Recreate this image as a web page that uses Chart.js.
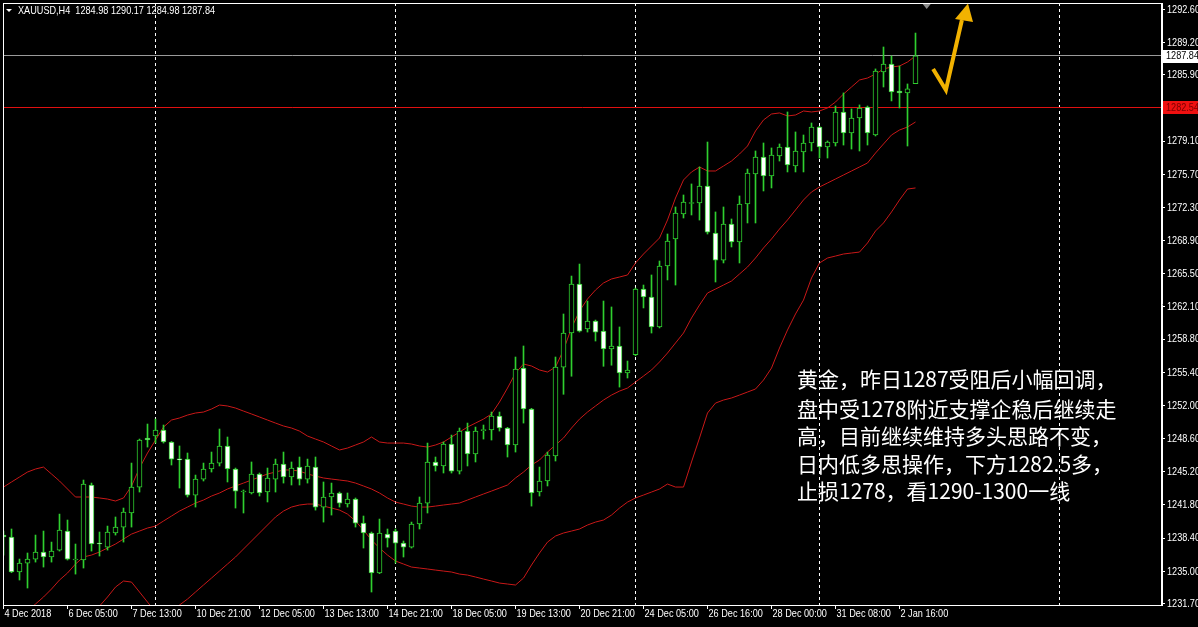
<!DOCTYPE html>
<html lang="zh">
<head>
<meta charset="utf-8">
<title>XAUUSD,H4</title>
<script src="https://cdn.jsdelivr.net/npm/chart.js@4.4.1/dist/chart.umd.min.js"></script>
<style>
  html, body { margin: 0; padding: 0; background: #000; overflow: hidden; }
  #grafico { display: block; }
</style>
</head>
<body>
<canvas id="grafico" width="1198" height="627"></canvas>
<script>
// Datos (velas H4 de XAUUSD, indice 0 = 4 Dec 21:00)
const titulo = 'XAUUSD,H4  1284.98 1290.17 1284.98 1287.84';

const opens = [
  1238.71, 1238.51, 1234.92, 1235.84, 1236.25, 1236.97, 1236.46, 1237.17, 1239.12, 1236.15,
  1236.15, 1243.84, 1237.89, 1237.48, 1238.92, 1239.53, 1240.97, 1243.63, 1248.66, 1248.86,
  1249.48, 1248.25, 1246.50, 1246.50, 1242.81, 1244.45, 1245.48, 1246.09, 1247.84, 1245.48,
  1243.12, 1243.02, 1244.97, 1243.12, 1244.45, 1245.99, 1244.66, 1245.68, 1244.45, 1245.68,
  1241.58, 1242.61, 1243.02, 1241.89, 1242.40, 1239.94, 1238.92, 1234.82, 1238.81, 1239.12,
  1237.89, 1237.48, 1239.84, 1241.99, 1246.20, 1245.79, 1248.04, 1245.27, 1249.37, 1247.02,
  1249.42, 1249.48, 1250.91, 1249.68, 1247.94, 1255.83, 1251.63, 1243.12, 1244.25, 1246.81,
  1255.93, 1259.42, 1264.44, 1259.83, 1260.65, 1259.62, 1257.78, 1258.09, 1255.32, 1257.19,
  1263.93, 1263.11, 1260.04, 1266.29, 1269.06, 1271.62, 1272.70, 1272.75, 1274.49, 1269.67,
  1266.90, 1270.60, 1268.75, 1272.65, 1275.72, 1277.46, 1275.52, 1277.57, 1278.49, 1276.54,
  1277.98, 1278.90, 1280.54, 1278.49, 1278.90, 1282.08, 1279.92, 1281.46, 1282.59, 1279.72,
  1286.18, 1287.00, 1284.23, 1284.03, 1284.98
];
const highs = [
  1239.12, 1239.33, 1236.25, 1236.87, 1238.71, 1239.12, 1237.99, 1240.86, 1240.25, 1237.79,
  1244.35, 1244.04, 1239.02, 1239.63, 1240.56, 1241.48, 1246.09, 1248.55, 1250.09, 1250.60,
  1249.99, 1248.30, 1247.84, 1247.12, 1244.86, 1246.09, 1247.22, 1249.58, 1248.76, 1245.58,
  1243.33, 1246.20, 1245.07, 1245.58, 1246.50, 1247.22, 1246.20, 1246.71, 1246.50, 1246.71,
  1244.15, 1244.04, 1243.12, 1243.02, 1242.51, 1240.66, 1239.02, 1240.35, 1239.33, 1239.33,
  1238.10, 1240.04, 1242.61, 1248.14, 1246.71, 1248.25, 1248.96, 1249.68, 1250.19, 1249.78,
  1249.99, 1251.32, 1251.32, 1249.75, 1256.96, 1258.09, 1251.70, 1245.68, 1247.22, 1256.96,
  1261.37, 1265.26, 1266.49, 1262.70, 1260.75, 1262.70, 1262.09, 1260.04, 1256.55, 1264.03,
  1264.34, 1265.37, 1266.80, 1269.57, 1272.34, 1273.57, 1274.70, 1276.44, 1279.00, 1271.83,
  1272.34, 1271.11, 1273.47, 1276.23, 1278.08, 1278.90, 1278.39, 1278.80, 1282.08, 1280.03,
  1279.72, 1280.95, 1280.60, 1279.11, 1282.69, 1284.03, 1282.39, 1282.80, 1282.69, 1286.49,
  1288.74, 1287.82, 1286.79, 1284.95, 1290.17
];
const lows = [
  1236.66, 1234.85, 1234.10, 1233.28, 1235.94, 1235.43, 1235.94, 1237.07, 1236.15, 1234.71,
  1235.33, 1237.07, 1236.56, 1237.17, 1238.71, 1237.99, 1239.53, 1243.12, 1247.73, 1248.14,
  1248.14, 1245.89, 1243.53, 1242.61, 1241.58, 1244.25, 1245.17, 1245.79, 1244.15, 1241.48,
  1240.97, 1242.92, 1242.71, 1242.10, 1243.12, 1244.04, 1243.84, 1243.84, 1244.04, 1241.27,
  1240.04, 1240.76, 1241.58, 1241.58, 1239.53, 1237.38, 1232.87, 1234.75, 1237.48, 1235.84,
  1236.46, 1237.38, 1239.33, 1240.97, 1245.27, 1245.07, 1245.07, 1244.97, 1245.79, 1246.20,
  1248.55, 1248.45, 1249.37, 1246.71, 1247.22, 1250.19, 1241.68, 1242.71, 1243.74, 1246.30,
  1253.14, 1254.99, 1259.52, 1259.52, 1258.60, 1256.01, 1256.12, 1253.88, 1254.81, 1257.09,
  1261.99, 1259.42, 1259.94, 1264.86, 1264.34, 1271.21, 1271.52, 1271.00, 1269.57, 1264.65,
  1266.60, 1268.24, 1266.60, 1270.70, 1270.70, 1273.98, 1274.29, 1277.05, 1275.93, 1275.93,
  1275.93, 1278.08, 1277.36, 1277.36, 1278.59, 1278.69, 1278.28, 1278.08, 1278.69, 1279.62,
  1284.64, 1283.21, 1282.49, 1278.59, 1284.98
];
const closes = [
  1238.51, 1234.92, 1235.84, 1236.25, 1236.97, 1236.46, 1237.07, 1239.22, 1236.25, 1236.25,
  1243.94, 1237.79, 1237.79, 1239.02, 1239.53, 1241.07, 1243.63, 1248.45, 1248.45, 1249.48,
  1248.25, 1246.50, 1246.42, 1242.81, 1244.45, 1245.48, 1246.09, 1247.84, 1245.48, 1243.22,
  1243.18, 1244.97, 1243.02, 1244.56, 1245.99, 1244.66, 1245.58, 1244.45, 1245.79, 1241.58,
  1242.61, 1243.02, 1241.99, 1242.40, 1239.94, 1238.92, 1234.82, 1238.92, 1238.40, 1237.89,
  1237.48, 1239.84, 1241.99, 1246.20, 1245.79, 1248.04, 1245.27, 1249.37, 1247.02, 1249.37,
  1249.48, 1250.91, 1249.68, 1247.94, 1255.73, 1251.63, 1243.02, 1244.25, 1246.91, 1255.93,
  1259.42, 1264.44, 1259.62, 1260.65, 1259.52, 1257.78, 1258.09, 1255.32, 1255.63, 1263.93,
  1263.11, 1260.04, 1266.29, 1268.85, 1271.72, 1272.85, 1272.78, 1274.49, 1269.77, 1266.90,
  1270.60, 1268.75, 1272.65, 1275.82, 1277.46, 1275.52, 1277.67, 1278.49, 1276.64, 1278.08,
  1278.90, 1280.54, 1278.49, 1279.00, 1282.08, 1279.92, 1281.46, 1282.49, 1279.92, 1286.28,
  1287.00, 1284.13, 1284.03, 1284.44, 1287.84
];

// Bandas de Bollinger (superior, media, inferior)
const upperBand = [
  1243.63, 1244.15, 1244.66, 1245.17, 1245.48, 1245.68, 1244.97, 1244.25, 1243.43, 1242.61,
  1242.61, 1242.61, 1242.51, 1242.40, 1242.20, 1242.51, 1243.73, 1245.58, 1247.12, 1248.45,
  1249.78, 1250.50, 1250.71, 1251.01, 1251.22, 1251.32, 1251.63, 1252.04, 1251.94, 1251.73,
  1251.42, 1251.12, 1250.81, 1250.50, 1250.19, 1249.89, 1249.68, 1249.37, 1248.86, 1248.55,
  1248.25, 1247.84, 1247.43, 1247.63, 1247.94, 1248.25, 1248.76, 1248.25, 1248.14, 1248.14,
  1248.14, 1248.04, 1247.84, 1247.73, 1247.94, 1248.25, 1248.76, 1249.27, 1249.78, 1250.19,
  1250.60, 1251.12, 1252.35, 1253.78, 1255.32, 1256.24, 1256.04, 1255.63, 1255.42, 1255.93,
  1257.68, 1259.93, 1261.68, 1262.91, 1263.83, 1264.55, 1264.96, 1265.16, 1265.37, 1266.60,
  1267.52, 1268.34, 1269.16, 1271.01, 1273.26, 1275.11, 1275.93, 1276.44, 1276.03, 1276.03,
  1276.54, 1277.05, 1277.77, 1278.59, 1280.13, 1281.26, 1281.87, 1281.98, 1281.67, 1281.77,
  1282.18, 1282.08, 1282.18, 1282.49, 1283.10, 1283.92, 1284.64, 1285.36, 1285.56, 1285.97,
  1286.49, 1286.69, 1286.79, 1287.20, 1287.82
];
const middleBand = [
  1227.95, 1229.18, 1230.20, 1230.92, 1231.64, 1232.36, 1233.18, 1234.10, 1234.82, 1235.74,
  1236.46, 1236.66, 1236.97, 1237.38, 1237.79, 1238.30, 1238.81, 1239.12, 1239.43, 1239.63,
  1240.15, 1240.66, 1241.17, 1241.58, 1241.99, 1242.30, 1242.71, 1243.02, 1243.43, 1243.74,
  1244.04, 1244.35, 1244.66, 1244.97, 1245.17, 1245.38, 1245.38, 1245.27, 1244.97, 1244.76,
  1244.56, 1244.45, 1244.35, 1244.25, 1244.04, 1243.74, 1243.43, 1243.02, 1242.51, 1242.09,
  1241.89, 1241.68, 1241.58, 1241.58, 1241.68, 1241.79, 1241.89, 1241.99, 1242.30, 1242.61,
  1242.92, 1243.22, 1243.53, 1243.84, 1244.56, 1245.17, 1245.89, 1246.40, 1247.22, 1247.94,
  1248.66, 1249.68, 1250.60, 1251.32, 1251.94, 1252.55, 1253.06, 1253.47, 1253.78, 1254.40,
  1255.01, 1255.63, 1256.45, 1257.37, 1258.40, 1259.42, 1260.96, 1262.29, 1263.52, 1263.93,
  1264.34, 1264.75, 1265.47, 1266.19, 1267.11, 1268.14, 1269.06, 1270.08, 1271.01, 1272.03,
  1273.06, 1273.88, 1274.39, 1274.80, 1275.21, 1275.62, 1276.03, 1276.44, 1276.85, 1277.87,
  1278.80, 1279.72, 1280.23, 1280.54, 1281.05
];
const lowerBand = [
  1212.26, 1214.21, 1215.75, 1216.67, 1217.80, 1219.03, 1221.39, 1223.95, 1226.20, 1228.87,
  1230.31, 1230.72, 1231.43, 1232.36, 1233.38, 1234.00, 1233.89, 1232.87, 1231.84, 1230.82,
  1230.51, 1230.82, 1231.54, 1232.15, 1232.87, 1233.59, 1234.30, 1235.02, 1235.74, 1236.46,
  1237.28, 1238.10, 1238.92, 1239.74, 1240.56, 1241.17, 1241.58, 1241.79, 1241.89, 1241.89,
  1241.68, 1241.48, 1241.27, 1240.86, 1240.15, 1239.22, 1238.20, 1237.38, 1236.66, 1236.05,
  1235.74, 1235.43, 1235.33, 1235.23, 1235.12, 1235.02, 1234.92, 1234.71, 1234.61, 1234.41,
  1234.20, 1234.00, 1233.79, 1233.69, 1233.59, 1234.30, 1235.64, 1236.87, 1237.99, 1238.61,
  1238.92, 1239.12, 1239.33, 1239.74, 1240.04, 1240.25, 1240.76, 1241.48, 1242.09, 1242.51,
  1242.81, 1243.12, 1243.43, 1243.94, 1243.63, 1243.63, 1246.20, 1248.66, 1251.22, 1252.24,
  1252.55, 1252.76, 1253.06, 1253.37, 1253.68, 1254.60, 1255.83, 1257.88, 1259.73, 1261.37,
  1262.80, 1265.06, 1266.60, 1267.11, 1267.31, 1267.52, 1267.62, 1267.72, 1268.65, 1269.88,
  1270.70, 1271.83, 1273.06, 1274.18, 1274.29
];

// Eje de tiempo: posicion (indice de vela) y texto de cada etiqueta
const xTickIdx = [0, 8, 16, 24, 32, 40, 48, 56, 64, 72, 80, 88, 96, 104, 112];
const xTickText = ['4 Dec 2018', '6 Dec 05:00', '7 Dec 13:00', '10 Dec 21:00', '12 Dec 05:00',
  '13 Dec 13:00', '14 Dec 21:00', '18 Dec 05:00', '19 Dec 13:00', '20 Dec 21:00',
  '24 Dec 05:00', '26 Dec 16:00', '28 Dec 00:00', '31 Dec 08:00', '2 Jan 16:00'];
const yTicks = [1292.60, 1289.20, 1285.90, 1282.50, 1279.10, 1275.70, 1272.30, 1268.90, 1265.50,
  1262.10, 1258.80, 1255.40, 1252.00, 1248.60, 1245.20, 1241.80, 1238.40, 1235.00, 1231.70];

// Separadores de semana, linea de precio actual y nivel marcado
const separators = [19, 49, 79, 102, 132];
const bidPrice = 1287.84;
const levelPrice = 1282.54;

// Flecha naranja (indice de vela, precio)
const arrowLine = [[116.2, 1286.49], [117.8, 1284.33], [119.8, 1291.51]];
const arrowHead = [[120.56, 1293.2], [118.94, 1291.61], [121.19, 1291.30]];

const nota = [
  '黄金，昨日1287受阻后小幅回调，',
  '盘中受1278附近支撑企稳后继续走',
  '高，目前继续维持多头思路不变，',
  '日内低多思操作，下方1282.5多，',
  '止损1278，看1290-1300一线'
];
const notaY = [379, 409, 436, 464, 491];

const verde = '#2fcf2f';
const rojo = '#c81818';
const fuente = "10.5px 'Liberation Sans', sans-serif";
const apriete = 0.87; // la fuente original es mas estrecha

const wicks = highs.map((h, i) => ({ x: i, y: [lows[i], h] }));
const bodies = opens.map((o, i) => ({ x: i, y: [o, closes[i]] }));
const bodyFill = opens.map((o, i) => closes[i] < o ? '#ffffff' : '#000000');
const banda = arr => arr.map((v, i) => ({ x: i, y: v }));

// texto algo comprimido en horizontal, como la fuente de MT4
function textoEstrecho(ctx, t, x, y) {
  ctx.save();
  ctx.translate(x, y);
  ctx.scale(apriete, 1);
  ctx.fillText(t, 0, 0);
  ctx.restore();
}

const overlay = {
  id: 'overlay',
  beforeDatasetsDraw(chart) {
    const { ctx, chartArea: a, scales: { x, y } } = chart;
    ctx.save();
    // separadores punteados
    ctx.strokeStyle = '#ffffff';
    ctx.lineWidth = 1;
    ctx.setLineDash([3, 3]);
    separators.forEach(i => {
      const px = Math.floor(x.getPixelForValue(i)) + 0.5;
      ctx.beginPath();
      ctx.moveTo(px, a.top);
      ctx.lineTo(px, a.bottom);
      ctx.stroke();
    });
    ctx.setLineDash([]);
    // linea gris del precio actual
    let py = Math.floor(y.getPixelForValue(bidPrice)) + 0.5;
    ctx.strokeStyle = '#9a9a9a';
    ctx.beginPath(); ctx.moveTo(a.left, py); ctx.lineTo(a.right, py); ctx.stroke();
    // nivel rojo
    py = Math.floor(y.getPixelForValue(levelPrice)) + 0.5;
    ctx.strokeStyle = '#e01010';
    ctx.beginPath(); ctx.moveTo(a.left, py); ctx.lineTo(a.right, py); ctx.stroke();
    ctx.restore();
  },
  afterDraw(chart) {
    const { ctx, chartArea: a, scales: { x, y } } = chart;
    ctx.save();
    // marco blanco
    ctx.strokeStyle = '#ffffff';
    ctx.lineWidth = 1;
    ctx.strokeRect(a.left + 0.5, a.top + 0.5, a.right - a.left - 1, a.bottom - a.top);

    ctx.font = fuente;
    ctx.textBaseline = 'middle';
    ctx.textAlign = 'left';
    ctx.fillStyle = '#ffffff';

    // etiquetas de los ejes, en la posicion que da cada escala
    xTickIdx.forEach((v, k) => textoEstrecho(ctx, xTickText[k], x.getPixelForValue(v) + 1, a.bottom + 9.5));
    yTicks.forEach(v => textoEstrecho(ctx, v.toFixed(2), a.right + 5, y.getPixelForValue(v) + 0.5));

    // etiquetas de precio a la derecha
    let py = y.getPixelForValue(bidPrice);
    ctx.fillStyle = '#ffffff';
    ctx.fillRect(a.right + 1, Math.round(py) - 6, 40, 13);
    ctx.fillStyle = '#000000';
    textoEstrecho(ctx, bidPrice.toFixed(2), a.right + 4, py + 0.5);
    py = y.getPixelForValue(levelPrice);
    ctx.fillStyle = '#f01010';
    ctx.fillRect(a.right + 1, Math.round(py) - 6, 40, 13);
    ctx.fillStyle = '#7a0000';
    textoEstrecho(ctx, levelPrice.toFixed(2), a.right + 4, py + 0.5);

    // titulo
    ctx.fillStyle = '#ffffff';
    ctx.beginPath();
    ctx.moveTo(6, 9); ctx.lineTo(12, 9); ctx.lineTo(9, 12); ctx.closePath();
    ctx.fill();
    textoEstrecho(ctx, titulo, 18, 11);

    // marcador de desplazamiento
    const sx = x.getPixelForValue(115.4);
    ctx.fillStyle = '#8c8c8c';
    ctx.beginPath();
    ctx.moveTo(sx - 4, a.top + 1); ctx.lineTo(sx + 4, a.top + 1); ctx.lineTo(sx, a.top + 6);
    ctx.closePath();
    ctx.fill();

    // flecha naranja
    ctx.strokeStyle = '#f2b200';
    ctx.fillStyle = '#f2b200';
    ctx.lineWidth = 4;
    ctx.lineJoin = 'miter';
    ctx.beginPath();
    arrowLine.forEach(([i, p], k) => {
      const px = x.getPixelForValue(i), pyy = y.getPixelForValue(p);
      if (k === 0) ctx.moveTo(px, pyy); else ctx.lineTo(px, pyy);
    });
    ctx.stroke();
    ctx.beginPath();
    arrowHead.forEach(([i, p], k) => {
      const px = x.getPixelForValue(i), pyy = y.getPixelForValue(p);
      if (k === 0) ctx.moveTo(px, pyy); else ctx.lineTo(px, pyy);
    });
    ctx.closePath();
    ctx.fill();

    // comentario en chino
    ctx.fillStyle = '#ffffff';
    ctx.font = "21px 'Noto Sans CJK SC', sans-serif";
    nota.forEach((t, k) => ctx.fillText(t, 797, notaY[k]));
    ctx.restore();
  }
};

new Chart(document.getElementById('grafico'), {
  type: 'bar',
  data: {
    datasets: [
      { type: 'line', data: banda(upperBand), borderColor: rojo, borderWidth: 1, pointRadius: 0, tension: 0, order: 5 },
      { type: 'line', data: banda(middleBand), borderColor: rojo, borderWidth: 1, pointRadius: 0, tension: 0, order: 5 },
      { type: 'line', data: banda(lowerBand), borderColor: rojo, borderWidth: 1, pointRadius: 0, tension: 0, order: 5 },
      { data: wicks, backgroundColor: verde, barThickness: 1, grouped: false, order: 3 },
      { data: bodies, backgroundColor: bodyFill, borderColor: verde, borderWidth: 1, borderSkipped: false,
        barThickness: 5, minBarLength: 1, grouped: false, order: 1 }
    ]
  },
  options: {
    responsive: false,
    animation: false,
    events: [],
    layout: { padding: { left: 3, top: 3, right: 0, bottom: 0 } },
    plugins: { legend: { display: false }, tooltip: { enabled: false } },
    scales: {
      x: {
        type: 'linear',
        min: -0.0625,
        max: 144.8125,
        offset: false,
        afterFit: s => { s.height = 22; },
        afterBuildTicks: s => { s.ticks = xTickIdx.map(v => ({ value: v })); },
        grid: { offset: false, drawOnChartArea: false, drawTicks: true, tickLength: 4, color: '#ffffff' },
        border: { display: true, color: '#ffffff' },
        ticks: { display: false, autoSkip: false, maxRotation: 0 }
      },
      y: {
        type: 'linear',
        position: 'right',
        min: 1231.54,
        max: 1293.25,
        afterFit: s => { s.width = 36; },
        afterBuildTicks: s => { s.ticks = yTicks.map(v => ({ value: v })); },
        grid: { drawOnChartArea: false, drawTicks: true, tickLength: 3, color: '#ffffff' },
        border: { display: true, color: '#ffffff' },
        ticks: { display: false, autoSkip: false }
      }
    }
  },
  plugins: [overlay]
});
</script>
</body>
</html>
